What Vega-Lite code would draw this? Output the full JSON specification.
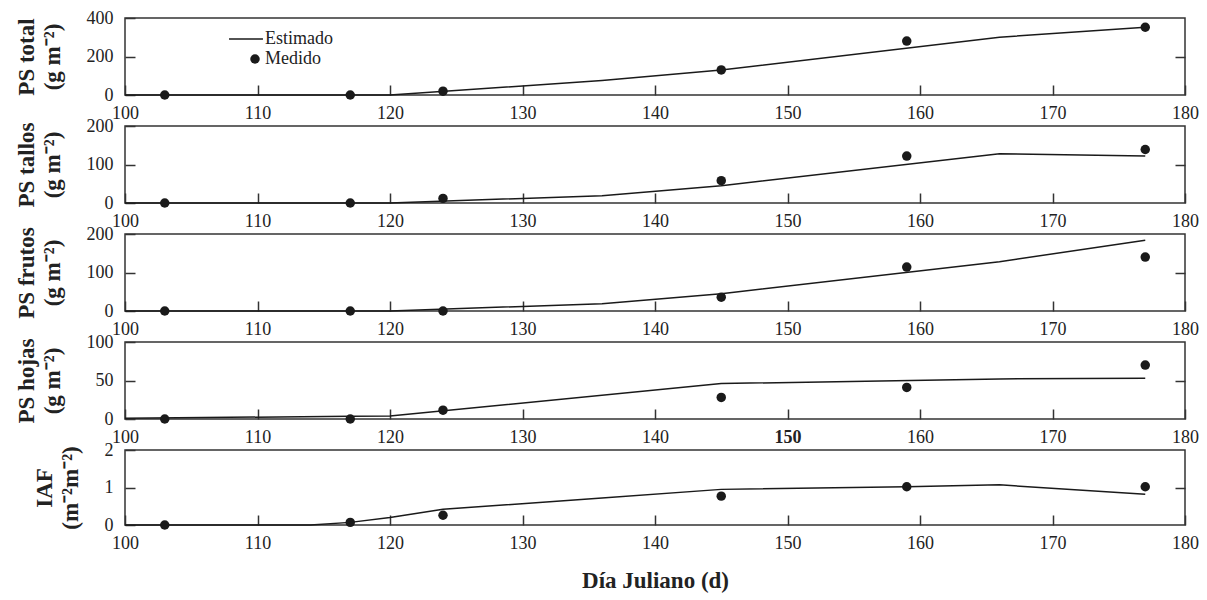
{
  "$schema": "https://vega.github.io/schema/vega-lite/v6.json",
  "padding": {"left": 14, "top": 8, "right": 5, "bottom": 5},
  "background": "white",
  "bounds": "flush",
  "spacing": 31,
  "data": {"values": [
    {"var": "total", "tipo": "Estimado", "dia": 100, "valor": 0},
    {"var": "total", "tipo": "Estimado", "dia": 120, "valor": 0},
    {"var": "total", "tipo": "Estimado", "dia": 136, "valor": 75},
    {"var": "total", "tipo": "Estimado", "dia": 145, "valor": 130},
    {"var": "total", "tipo": "Estimado", "dia": 166, "valor": 300},
    {"var": "total", "tipo": "Estimado", "dia": 177, "valor": 352},
    {"var": "total", "tipo": "Medido", "dia": 103, "valor": 0},
    {"var": "total", "tipo": "Medido", "dia": 117, "valor": 0},
    {"var": "total", "tipo": "Medido", "dia": 124, "valor": 20},
    {"var": "total", "tipo": "Medido", "dia": 145, "valor": 130},
    {"var": "total", "tipo": "Medido", "dia": 159, "valor": 280},
    {"var": "total", "tipo": "Medido", "dia": 177, "valor": 352},
    {"var": "tallos", "tipo": "Estimado", "dia": 100, "valor": 0},
    {"var": "tallos", "tipo": "Estimado", "dia": 120, "valor": 0},
    {"var": "tallos", "tipo": "Estimado", "dia": 136, "valor": 19},
    {"var": "tallos", "tipo": "Estimado", "dia": 145, "valor": 45},
    {"var": "tallos", "tipo": "Estimado", "dia": 166, "valor": 128},
    {"var": "tallos", "tipo": "Estimado", "dia": 177, "valor": 122},
    {"var": "tallos", "tipo": "Medido", "dia": 103, "valor": 0},
    {"var": "tallos", "tipo": "Medido", "dia": 117, "valor": 0},
    {"var": "tallos", "tipo": "Medido", "dia": 124, "valor": 12},
    {"var": "tallos", "tipo": "Medido", "dia": 145, "valor": 58},
    {"var": "tallos", "tipo": "Medido", "dia": 159, "valor": 122},
    {"var": "tallos", "tipo": "Medido", "dia": 177, "valor": 139},
    {"var": "frutos", "tipo": "Estimado", "dia": 100, "valor": 0},
    {"var": "frutos", "tipo": "Estimado", "dia": 120, "valor": 0},
    {"var": "frutos", "tipo": "Estimado", "dia": 136, "valor": 19},
    {"var": "frutos", "tipo": "Estimado", "dia": 145, "valor": 45},
    {"var": "frutos", "tipo": "Estimado", "dia": 166, "valor": 128},
    {"var": "frutos", "tipo": "Estimado", "dia": 177, "valor": 184},
    {"var": "frutos", "tipo": "Medido", "dia": 103, "valor": 0},
    {"var": "frutos", "tipo": "Medido", "dia": 117, "valor": 0},
    {"var": "frutos", "tipo": "Medido", "dia": 124, "valor": 0},
    {"var": "frutos", "tipo": "Medido", "dia": 145, "valor": 36},
    {"var": "frutos", "tipo": "Medido", "dia": 159, "valor": 114},
    {"var": "frutos", "tipo": "Medido", "dia": 177, "valor": 140},
    {"var": "hojas", "tipo": "Estimado", "dia": 100, "valor": 1},
    {"var": "hojas", "tipo": "Estimado", "dia": 117, "valor": 3.5},
    {"var": "hojas", "tipo": "Estimado", "dia": 120, "valor": 4},
    {"var": "hojas", "tipo": "Estimado", "dia": 145, "valor": 46},
    {"var": "hojas", "tipo": "Estimado", "dia": 166, "valor": 52},
    {"var": "hojas", "tipo": "Estimado", "dia": 177, "valor": 53},
    {"var": "hojas", "tipo": "Medido", "dia": 103, "valor": 0},
    {"var": "hojas", "tipo": "Medido", "dia": 117, "valor": 0},
    {"var": "hojas", "tipo": "Medido", "dia": 124, "valor": 11.5},
    {"var": "hojas", "tipo": "Medido", "dia": 145, "valor": 28},
    {"var": "hojas", "tipo": "Medido", "dia": 159, "valor": 41},
    {"var": "hojas", "tipo": "Medido", "dia": 177, "valor": 70},
    {"var": "iaf", "tipo": "Estimado", "dia": 100, "valor": 0},
    {"var": "iaf", "tipo": "Estimado", "dia": 114, "valor": 0},
    {"var": "iaf", "tipo": "Estimado", "dia": 117, "valor": 0.07},
    {"var": "iaf", "tipo": "Estimado", "dia": 120, "valor": 0.2},
    {"var": "iaf", "tipo": "Estimado", "dia": 124, "valor": 0.42},
    {"var": "iaf", "tipo": "Estimado", "dia": 136, "valor": 0.72},
    {"var": "iaf", "tipo": "Estimado", "dia": 145, "valor": 0.95},
    {"var": "iaf", "tipo": "Estimado", "dia": 159, "valor": 1.02},
    {"var": "iaf", "tipo": "Estimado", "dia": 166, "valor": 1.07},
    {"var": "iaf", "tipo": "Estimado", "dia": 177, "valor": 0.82},
    {"var": "iaf", "tipo": "Medido", "dia": 103, "valor": 0},
    {"var": "iaf", "tipo": "Medido", "dia": 117, "valor": 0.07},
    {"var": "iaf", "tipo": "Medido", "dia": 124, "valor": 0.26},
    {"var": "iaf", "tipo": "Medido", "dia": 145, "valor": 0.77},
    {"var": "iaf", "tipo": "Medido", "dia": 159, "valor": 1.02},
    {"var": "iaf", "tipo": "Medido", "dia": 177, "valor": 1.02}
  ]},
  "vconcat": [
    {
      "width": 1060, "height": 77,
      "transform": [{"filter": "datum.var == 'total'"}],
      "layer": [
        {
          "transform": [{"filter": "datum.tipo == 'Estimado'"}],
          "mark": {"type": "line", "strokeWidth": 1.5},
          "encoding": {
            "x": {"field": "dia", "type": "quantitative", "scale": {"domain": [100, 180], "nice": false}, "axis": {"orient": "bottom", "values": [100, 110, 120, 130, 140, 150, 160, 170, 180], "title": null}},
            "y": {"field": "valor", "type": "quantitative", "scale": {"domain": [0, 400], "nice": false}, "axis": {"orient": "left", "values": [0, 200, 400], "title": ["PS total", "(g m⁻²)"]}},
            "color": {"field": "tipo", "type": "nominal", "scale": {"domain": ["Estimado", "Medido"], "range": ["#1a1a1a", "#1a1a1a"]},
              "legend": {"orient": "none", "legendX": 104, "legendY": 12, "title": null, "labelFontSize": 18, "labelColor": "#222", "labelFont": "Liberation Serif", "rowPadding": 2, "labelOffset": 18,
                "encode": {"symbols": {"update": {
                  "x": {"signal": "datum.value == 'Estimado' ? 17 : 26"},
                  "shape": {"signal": "datum.value == 'Estimado' ? 'stroke' : 'circle'"},
                  "size": {"signal": "datum.value == 'Estimado' ? 1150 : 90"},
                  "fill": {"signal": "datum.value == 'Estimado' ? 'transparent' : '#1a1a1a'"},
                  "stroke": {"value": "#1a1a1a"},
                  "strokeWidth": {"signal": "datum.value == 'Estimado' ? 1.5 : 0"},
                  "opacity": {"value": 1}
                }}}}}
          }
        },
        {
          "transform": [{"filter": "datum.tipo == 'Medido'"}],
          "mark": {"type": "point", "filled": true, "size": 90, "opacity": 1},
          "encoding": {
            "x": {"field": "dia", "type": "quantitative", "axis": {"orient": "bottom", "values": [100, 110, 120, 130, 140, 150, 160, 170, 180], "title": null}},
            "y": {"field": "valor", "type": "quantitative", "axis": {"orient": "right", "offset": -10, "values": [200], "labels": false, "title": null, "tickSize": 10}},
            "color": {"field": "tipo", "type": "nominal"}
          }
        }
      ],
      "resolve": {"axis": {"y": "independent"}}
    },
    {
      "width": 1060, "height": 77,
      "transform": [{"filter": "datum.var == 'tallos'"}],
      "layer": [
        {
          "transform": [{"filter": "datum.tipo == 'Estimado'"}],
          "mark": {"type": "line", "strokeWidth": 1.5, "color": "#1a1a1a"},
          "encoding": {
            "x": {"field": "dia", "type": "quantitative", "scale": {"domain": [100, 180], "nice": false}, "axis": {"orient": "bottom", "values": [100, 110, 120, 130, 140, 150, 160, 170, 180], "title": null}},
            "y": {"field": "valor", "type": "quantitative", "scale": {"domain": [0, 200], "nice": false}, "axis": {"orient": "left", "values": [0, 100, 200], "title": ["PS tallos", "(g m⁻²)"]}}
          }
        },
        {
          "transform": [{"filter": "datum.tipo == 'Medido'"}],
          "mark": {"type": "point", "filled": true, "size": 90, "opacity": 1, "color": "#1a1a1a"},
          "encoding": {
            "x": {"field": "dia", "type": "quantitative", "axis": {"orient": "bottom", "values": [100, 110, 120, 130, 140, 150, 160, 170, 180], "title": null}},
            "y": {"field": "valor", "type": "quantitative", "axis": {"orient": "right", "offset": -10, "values": [100], "labels": false, "title": null, "tickSize": 10}}
          }
        }
      ],
      "resolve": {"axis": {"y": "independent"}}
    },
    {
      "width": 1060, "height": 77,
      "transform": [{"filter": "datum.var == 'frutos'"}],
      "layer": [
        {
          "transform": [{"filter": "datum.tipo == 'Estimado'"}],
          "mark": {"type": "line", "strokeWidth": 1.5, "color": "#1a1a1a"},
          "encoding": {
            "x": {"field": "dia", "type": "quantitative", "scale": {"domain": [100, 180], "nice": false}, "axis": {"orient": "bottom", "values": [100, 110, 120, 130, 140, 150, 160, 170, 180], "title": null}},
            "y": {"field": "valor", "type": "quantitative", "scale": {"domain": [0, 200], "nice": false}, "axis": {"orient": "left", "values": [0, 100, 200], "title": ["PS frutos", "(g m⁻²)"]}}
          }
        },
        {
          "transform": [{"filter": "datum.tipo == 'Medido'"}],
          "mark": {"type": "point", "filled": true, "size": 90, "opacity": 1, "color": "#1a1a1a"},
          "encoding": {
            "x": {"field": "dia", "type": "quantitative", "axis": {"orient": "bottom", "values": [100, 110, 120, 130, 140, 150, 160, 170, 180], "title": null}},
            "y": {"field": "valor", "type": "quantitative", "axis": {"orient": "right", "offset": -10, "values": [100], "labels": false, "title": null, "tickSize": 10}}
          }
        }
      ],
      "resolve": {"axis": {"y": "independent"}}
    },
    {
      "width": 1060, "height": 77,
      "transform": [{"filter": "datum.var == 'hojas'"}],
      "layer": [
        {
          "transform": [{"filter": "datum.tipo == 'Estimado'"}],
          "mark": {"type": "line", "strokeWidth": 1.5, "color": "#1a1a1a"},
          "encoding": {
            "x": {"field": "dia", "type": "quantitative", "scale": {"domain": [100, 180], "nice": false}, "axis": {"orient": "bottom", "values": [100, 110, 120, 130, 140, 150, 160, 170, 180], "title": null, "labelFontWeight": {"condition": {"test": "datum.value == 150", "value": "bold"}, "value": "normal"}}},
            "y": {"field": "valor", "type": "quantitative", "scale": {"domain": [0, 100], "nice": false}, "axis": {"orient": "left", "values": [0, 50, 100], "title": ["PS hojas", "(g m⁻²)"]}}
          }
        },
        {
          "transform": [{"filter": "datum.tipo == 'Medido'"}],
          "mark": {"type": "point", "filled": true, "size": 90, "opacity": 1, "color": "#1a1a1a"},
          "encoding": {
            "x": {"field": "dia", "type": "quantitative", "axis": {"orient": "bottom", "values": [100, 110, 120, 130, 140, 150, 160, 170, 180], "title": null, "labelFontWeight": {"condition": {"test": "datum.value == 150", "value": "bold"}, "value": "normal"}}},
            "y": {"field": "valor", "type": "quantitative", "axis": {"orient": "right", "offset": -10, "values": [50], "labels": false, "title": null, "tickSize": 10}}
          }
        }
      ],
      "resolve": {"axis": {"y": "independent"}}
    },
    {
      "width": 1060, "height": 75,
      "transform": [{"filter": "datum.var == 'iaf'"}],
      "layer": [
        {
          "transform": [{"filter": "datum.tipo == 'Estimado'"}],
          "mark": {"type": "line", "strokeWidth": 1.5, "color": "#1a1a1a"},
          "encoding": {
            "x": {"field": "dia", "type": "quantitative", "scale": {"domain": [100, 180], "nice": false}, "axis": {"orient": "bottom", "values": [100, 110, 120, 130, 140, 150, 160, 170, 180], "title": "Día Juliano (d)", "titlePadding": 17}},
            "y": {"field": "valor", "type": "quantitative", "scale": {"domain": [0, 2], "nice": false}, "axis": {"orient": "left", "values": [0, 1, 2], "labelExpr": "datum.value == 0 ? '0' : datum.value == 1 ? '1' : '2'", "title": ["IAF", "(m⁻²m⁻²)"]}}
          }
        },
        {
          "transform": [{"filter": "datum.tipo == 'Medido'"}],
          "mark": {"type": "point", "filled": true, "size": 90, "opacity": 1, "color": "#1a1a1a"},
          "encoding": {
            "x": {"field": "dia", "type": "quantitative", "axis": {"orient": "bottom", "values": [100, 110, 120, 130, 140, 150, 160, 170, 180], "title": "Día Juliano (d)", "titlePadding": 17}},
            "y": {"field": "valor", "type": "quantitative", "axis": {"orient": "right", "offset": -10, "values": [1], "labels": false, "title": null, "tickSize": 10}}
          }
        }
      ],
      "resolve": {"axis": {"y": "independent"}}
    }
  ],
  "config": {
    "font": "Liberation Serif",
    "view": {"stroke": "#333", "strokeWidth": 1.5},
    "line": {"color": "#1a1a1a"},
    "point": {"color": "#1a1a1a"},
    "axis": {
      "grid": false,
      "domain": false,
      "ticks": true, "tickSize": 10, "offset": -10,
      "tickColor": "#333", "tickWidth": 1.5,
      "labelFont": "Liberation Serif", "labelFontSize": 18, "labelColor": "#222",
      "labelFlush": false, "labelOverlap": false,
      "titleFont": "Liberation Serif", "titleFontSize": 23, "titleFontWeight": "bold", "titleColor": "#222",
      "titleLineHeight": 26
    },
    "axisX": {"labelPadding": 9},
    "axisY": {"labelPadding": 12, "titlePadding": 22}
  }
}
